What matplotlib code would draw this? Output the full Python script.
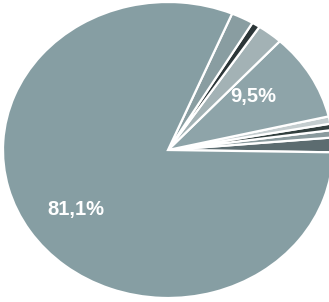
import matplotlib.pyplot as plt

# slices, counter-clockwise starting just below 3 o'clock
shares = [1.6, 0.8, 0.7, 0.8, 9.5, 2.5, 0.8, 2.2, 81.1]
colors = ['#5c6c70', '#8a9a9d', '#33403f', '#c4cdcf', '#8ea4a9',
          '#a3b2b5', '#2c3638', '#899da1', '#869ea3']


def pct_label(p):
    if p < 5:
        return ''
    return ('%.1f%%' % p).replace('.', ',')


if __name__ == '__main__':

    fig = plt.figure(figsize=(3.29, 3.02), dpi=100)
    ax = fig.add_axes([3 / 329, 4 / 302, 330 / 329, 296 / 302])

    wedges, texts, autotexts = ax.pie(
        shares, colors=colors, startangle=-0.9, counterclock=True,
        autopct=pct_label, pctdistance=0.66,
        wedgeprops=dict(edgecolor='white', linewidth=1.6),
        textprops=dict(color='white', fontsize=14.5, fontweight='bold',
                       family=['Liberation Sans', 'DejaVu Sans']))

    # nudge the two labels to where they sit in the original
    autotexts[4].set_position((0.515, 0.36))
    autotexts[8].set_position((-0.56, -0.40))

    ax.set_aspect('auto')
    ax.set_xlim(-1, 1)
    ax.set_ylim(-1, 1)
    ax.axis('off')

    plt.savefig('out.png', dpi=100)
